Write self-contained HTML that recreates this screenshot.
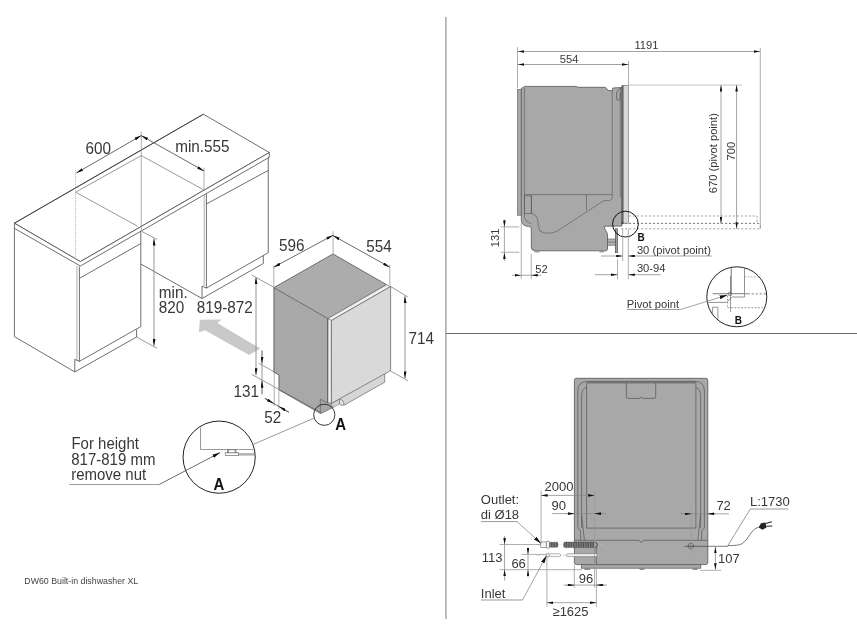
<!DOCTYPE html>
<html><head><meta charset="utf-8">
<style>
html,body{margin:0;padding:0;background:#fff;}
body{width:857px;height:640px;overflow:hidden;}
svg{display:block;will-change:transform;}
text{font-family:"Liberation Sans",sans-serif;fill:#383838;}
.l{stroke:#4a4a4a;stroke-width:0.8;}
.t{stroke:#555;stroke-width:0.6;}
.g{stroke:#9a9a9a;stroke-width:0.8;}
.d{stroke:#505050;stroke-width:0.85;}
.dv{stroke:#8a8a8a;stroke-width:0.9;}
.dr{stroke:#858585;stroke-width:0.75;}
polyline,line{fill:none;}
</style></head><body>
<svg width="857" height="640" viewBox="0 0 857 640">
<defs>
<marker id="ar" markerUnits="userSpaceOnUse" markerWidth="6.5" markerHeight="2.6" refX="6.5" refY="1.3" orient="auto-start-reverse" viewBox="0 0 6.5 2.6">
<path d="M0,0 L6.5,1.3 L0,2.6 z" fill="#111"/>
</marker>
<marker id="arl" markerUnits="userSpaceOnUse" markerWidth="7" markerHeight="3" refX="7" refY="1.5" orient="auto-start-reverse" viewBox="0 0 7 3">
<path d="M0,0 L7,1.5 L0,3 z" fill="#111"/>
</marker>
<marker id="ar2" markerUnits="userSpaceOnUse" markerWidth="8" markerHeight="3.8" refX="8" refY="1.9" orient="auto" viewBox="0 0 8 3.8">
<path d="M0,0 L8,1.9 L0,3.8 z" fill="#111"/>
</marker>
</defs>

<!-- dividers -->
<line x1="445.9" y1="17" x2="445.9" y2="619" stroke="#9a9a9a" stroke-width="1.3"/>
<line x1="446" y1="333.5" x2="857" y2="333.5" stroke="#6e6a6a" stroke-width="1.1"/>

<!-- ============ LEFT ISOMETRIC ============ -->
<g id="left">
<!-- countertop -->
<polygon points="14.4,223.2 203.4,114.2 269.3,152.5 80.4,261.6" fill="#fff" class="l"/>
<polygon points="14.4,223.2 80.4,261.6 269.3,152.5 269.3,157.3 80.4,266 14.4,228.4" fill="#fff" class="l"/>
<line x1="14.4" y1="223.2" x2="203.4" y2="114.2" stroke="#333" stroke-width="0.8"/>
<!-- niche outline on top -->
<polyline points="137.7,226.3 75.6,192.2 141.25,155.6 203.4,189.7" class="t"/>
<!-- left cabinet -->
<polyline points="14.4,228.4 14.4,336.6 74.8,371.9 136.6,337 136.6,329.5" class="l"/>
<line x1="74.8" y1="359.4" x2="74.8" y2="371.9" class="l"/>
<line x1="76.9" y1="266" x2="76.9" y2="360.2" stroke="#9a9a9a" stroke-width="0.8"/>
<line x1="79.4" y1="266.5" x2="79.4" y2="361.4" class="l"/>
<line x1="74.8" y1="359.4" x2="79.4" y2="361.4" class="l"/>
<line x1="79.4" y1="278.4" x2="140.8" y2="243.5" class="l"/>
<line x1="79.4" y1="361.4" x2="140.8" y2="326.6" class="l"/>
<line x1="140.8" y1="231.3" x2="140.8" y2="326.6" class="l"/>
<!-- niche: right cabinet side bottom edge -->
<line x1="140.8" y1="264" x2="202" y2="298.5" class="l"/>
<!-- right cabinet -->
<line x1="204.2" y1="195" x2="204.2" y2="286" stroke="#9a9a9a" stroke-width="0.8"/>
<line x1="206.4" y1="193.6" x2="206.4" y2="288.1" class="l"/>
<line x1="206.4" y1="204" x2="268.25" y2="170.4" class="l"/>
<line x1="206.4" y1="288.1" x2="268.25" y2="252.7" class="l"/>
<line x1="268.25" y1="157.2" x2="268.25" y2="252.7" class="l"/>
<polyline points="206.4,288.1 202,286.2 202,298.5 263.3,263.5 263.3,255.8" class="l"/>

<!-- extension lines / dims 600, min.555 -->
<line x1="75.6" y1="170" x2="75.6" y2="260" stroke="#aaa" stroke-width="0.8" stroke-dasharray="1.2,0.8"/>
<line x1="141.25" y1="131.7" x2="141.25" y2="231" stroke="#888" stroke-width="0.7"/>
<line x1="204" y1="167.8" x2="204" y2="190" class="g"/>
<line x1="76.4" y1="173" x2="141.25" y2="135.6" class="d" marker-start="url(#arl)" marker-end="url(#arl)"/>
<line x1="141.25" y1="135.6" x2="204" y2="171" class="d" marker-start="url(#arl)" marker-end="url(#arl)"/>
<text transform="translate(85.5,153.9) scale(1,1.12)" font-size="15.3">600</text>
<text transform="translate(175.2,151.9) scale(1,1.12)" font-size="15.3">min.555</text>

<!-- min 820 -->
<line x1="142" y1="231.5" x2="157" y2="239.4" class="t"/>
<line x1="136.6" y1="337" x2="157" y2="348.4" class="t"/>
<line x1="154" y1="238.6" x2="154" y2="346" class="dv" marker-start="url(#arl)" marker-end="url(#arl)"/>
<text transform="translate(158.8,298.2) scale(1,1.12)" font-size="15.3">min.</text>
<text transform="translate(158.8,312.7) scale(1,1.12)" font-size="15.3">820</text>
<text transform="translate(196.7,312.7) scale(1,1.12)" font-size="15.3">819-872</text>

<!-- gray arrow -->
<polygon points="199.8,319.8 221.9,319.4 217.2,323.1 260.4,348.5 249.1,355 205,330.2 198.9,332.5" fill="#c9c9c9"/>

<!-- dishwasher iso -->
<polygon points="273.9,287.6 328,318.6 331.4,320.5 331.4,403.4 333,407.5 320.6,413.6 279.1,390 279.1,375 273.9,372.2" fill="#a8a8a8"/>
<polyline points="273.9,287.6 273.9,372.2 279.1,375 279.1,390" class="l"/>
<line x1="279.1" y1="390" x2="320.6" y2="413.6" stroke="#555" stroke-width="0.7"/>
<line x1="320.6" y1="413.6" x2="333" y2="407.5" stroke="#555" stroke-width="0.7"/>
<polyline points="320.3,413.4 320.3,399.1 327.6,403" stroke="#555" stroke-width="0.6"/>
<polygon points="333,253.9 386.6,284.7 328,318.6 273.9,287.6" fill="#acacac" stroke="#555" stroke-width="0.8"/>
<polygon points="328,318.6 386.6,284.7 390.6,286.5 331.4,320.5" fill="#f0f0f0" stroke="#666" stroke-width="0.6"/>
<polygon points="328,318.6 331.4,320.5 331.4,403.4 327.8,402.5" fill="#eeeeee" stroke="#666" stroke-width="0.6"/>
<polygon points="341.7,397.7 384.7,373.9 384.7,382.2 343.8,405.4" fill="#d6d6d6"/>
<polygon points="331.4,403.4 340.2,398.6 341.6,403 333,407.5" fill="#d2d2d2" stroke="#666" stroke-width="0.5"/>
<polyline points="384.7,373.9 384.7,382.2 343.8,405.4" fill="none" stroke="#555" stroke-width="0.6"/>

<polygon points="331.4,320.5 390.6,286.5 390.6,370.6 331.4,403.4" fill="#d9d9d9" stroke="#5a5a5a" stroke-width="0.7"/>

<ellipse cx="341.6" cy="402.5" rx="2" ry="3.1" transform="rotate(-28 341.6 402.5)" fill="#e6e6e6" stroke="#555" stroke-width="0.6"/>
<line x1="327.6" y1="318.8" x2="327.6" y2="403" stroke="#555" stroke-width="0.8"/>

<!-- dims 596 / 554 / 714 -->
<line x1="273.8" y1="265.3" x2="273.8" y2="287.5" class="g"/>
<line x1="333.1" y1="231.25" x2="333.1" y2="253.9" class="g"/>
<line x1="389.8" y1="264.8" x2="389.8" y2="285" class="g"/>
<line x1="273.75" y1="267.2" x2="333.1" y2="235.2" class="d" marker-start="url(#arl)" marker-end="url(#arl)"/>
<line x1="333.1" y1="235.6" x2="389.8" y2="267.2" class="d" marker-start="url(#arl)" marker-end="url(#arl)"/>
<text transform="translate(279.0,251.1) scale(1,1.12)" font-size="15.3">596</text>
<text transform="translate(366.2,251.9) scale(1,1.12)" font-size="15.3">554</text>
<line x1="389.8" y1="286" x2="407.8" y2="296.9" class="t"/>
<line x1="390.6" y1="371" x2="408.1" y2="380.8" class="t"/>
<line x1="405" y1="296" x2="405" y2="378.4" class="dv" marker-start="url(#arl)" marker-end="url(#arl)"/>
<text transform="translate(408.6,343.6) scale(1,1.12)" font-size="15.3">714</text>

<!-- 819-872 dim + 131 + 52 -->
<line x1="251.6" y1="275" x2="273.6" y2="287.2" class="t"/>
<line x1="256" y1="277.3" x2="256" y2="375.15" class="dv" marker-start="url(#arl)" marker-end="url(#arl)"/>
<line x1="258.7" y1="363.2" x2="274.9" y2="372.3" class="t"/>
<line x1="251.7" y1="374.4" x2="320.3" y2="412.2" class="t"/>
<line x1="262" y1="350.5" x2="262" y2="394.1" class="dv"/>
<line x1="262" y1="350.5" x2="262" y2="363.6" class="dv" marker-end="url(#arl)"/>
<line x1="262" y1="394.1" x2="262" y2="380.8" class="dv" marker-end="url(#arl)"/>
<text transform="translate(233.4,397.3) scale(1,1.12)" font-size="15.3">131</text>
<line x1="274.2" y1="372.3" x2="274.2" y2="406" class="g"/>
<line x1="278.85" y1="375" x2="278.85" y2="408.9" class="g"/>
<line x1="264.9" y1="398.4" x2="288.8" y2="412.2" class="d"/>
<line x1="264.9" y1="398.4" x2="273.6" y2="403.4" class="d" marker-end="url(#arl)"/>
<line x1="288.8" y1="412.2" x2="279.1" y2="406.6" class="d" marker-end="url(#arl)"/>
<text transform="translate(264.2,423.3) scale(1,1.12)" font-size="15.3">52</text>

<!-- detail A -->
<circle cx="324.3" cy="414.75" r="10.6" fill="none" stroke="#222" stroke-width="0.9"/>
<text transform="translate(335.3,429.7) scale(1,1.07)" font-size="15" font-weight="bold" style="fill:#111">A</text>
<line x1="314.25" y1="418" x2="253.7" y2="444.25" class="t"/>
<circle cx="219.15" cy="457.15" r="36.1" fill="none" stroke="#222" stroke-width="1"/>
<polyline points="200.5,427.6 200.5,449.5 253.3,449.5" class="t"/>
<rect x="225.2" y="452.8" width="13.5" height="2.7" class="t" fill="#fff"/>
<rect x="227.4" y="449.8" width="8.6" height="3" class="t" fill="#fff"/>
<line x1="228.4" y1="449.8" x2="228.4" y2="452.8" class="t"/><line x1="235.1" y1="449.8" x2="235.1" y2="452.8" class="t"/>
<line x1="238.7" y1="453.8" x2="254.5" y2="453.8" class="t"/>
<line x1="238.7" y1="455" x2="254.5" y2="455" class="t"/>
<text transform="translate(213.5,489.7) scale(1,1.07)" font-size="15" font-weight="bold" style="fill:#111">A</text>
<line x1="69.25" y1="484.5" x2="159.2" y2="484.5" class="t"/>
<line x1="159.2" y1="484.5" x2="220.1" y2="452.6" class="d" marker-end="url(#ar2)"/>
<text transform="translate(71.4,449.2) scale(1,1.04)" font-size="15">For height</text>
<text transform="translate(71.2,464.8) scale(1,1.04)" font-size="15">817-819 mm</text>
<text transform="translate(71.2,479.9) scale(1,1.04)" font-size="15">remove nut</text>

<text x="24.3" y="584.2" font-size="8.8" style="fill:#444">DW60 Built-in dishwasher XL</text>
</g>

<!-- ============ TOP RIGHT: SIDE VIEW ============ -->
<g id="side">
<!-- dims top -->
<line x1="517.5" y1="47.2" x2="517.5" y2="88" class="g"/>
<line x1="760.3" y1="47.9" x2="760.3" y2="228.8" class="g"/>
<line x1="628.5" y1="61" x2="628.5" y2="85" class="g"/>
<line x1="517.5" y1="51.5" x2="760.3" y2="51.5" class="dr" marker-start="url(#ar)" marker-end="url(#ar)"/>
<line x1="517.5" y1="64.5" x2="628.5" y2="64.5" class="dr" marker-start="url(#ar)" marker-end="url(#ar)"/>
<text transform="translate(634.4,48.9) scale(1,1.05)" font-size="11.2">1191</text>
<text transform="translate(559.8,62.7) scale(1,1.05)" font-size="11.2">554</text>
<line x1="628.5" y1="85" x2="741.8" y2="85" stroke="#c4c4c4" stroke-width="1.2"/>
<line x1="721" y1="85" x2="721" y2="223.6" class="dr" marker-start="url(#ar)" marker-end="url(#ar)"/>
<line x1="736.6" y1="85" x2="736.6" y2="228.8" class="dr" marker-start="url(#ar)" marker-end="url(#ar)"/>
<text transform="translate(716.9,153.2) rotate(-90) scale(1,1.05)" text-anchor="middle" font-size="11.2">670 (pivot point)</text>
<text transform="translate(735.2,151.2) rotate(-90) scale(1,1.05)" text-anchor="middle" font-size="11.2">700</text>
<!-- dotted open-door outline -->
<g stroke="#888" stroke-width="0.8" stroke-dasharray="2,2" fill="none">
<polyline points="628.75,216 757,216 757,223.4"/>
<line x1="617" y1="223.4" x2="760.3" y2="223.4" stroke="#555"/>
<polyline points="621.25,228.8 760.3,228.8 760.3,223.4"/>
</g>
<!-- body -->
<rect x="517.5" y="89.6" width="3.8" height="125.6" fill="#a8a8a8" class="t"/>
<path d="M521.3,88.5 L524.5,86.4 L576,86.4 L578,87.3 L605.4,87.3 L608.6,90.6 L612.5,90.6 L612.7,88 L621.9,87.5 L621.9,226 L604.4,226.25 Q604.4,229 606,231 Q607.5,233 607.5,235 L607.5,249 Q607.5,250.8 605.5,250.8 L535,250.8 Q531.3,250.8 531.3,247 L531.3,229 Q531.3,226.3 528.5,226.3 L526.4,226.2 Q521.3,224.5 521.3,220 Z" fill="#a8a8a8" stroke="#555" stroke-width="0.8"/>
<rect x="623.2" y="85.6" width="5.1" height="137.6" fill="#d8d8d8" stroke="#666" stroke-width="0.6"/>
<path d="M621.4,85.3 L623.2,85.3 L623.2,223.5 L621.4,223.5 Z" fill="#666"/>
<g stroke="#555" stroke-width="0.6" fill="none">
<path d="M524.4,88 L524.4,217.8 Q526,222 531.3,224"/>
<line x1="612.2" y1="91" x2="612.2" y2="196"/>
<line x1="620.3" y1="88" x2="620.3" y2="197"/>
<line x1="524.4" y1="194.6" x2="612.5" y2="194.6"/>
<rect x="524.4" y="195.9" width="6.9" height="17.5"/>
<path d="M531.3,195 L531.3,213.4 Q535.5,214 537.5,219 Q538,227 540,231 Q543,233.5 550,233.2 Q556,232.5 561,228.7 L603.75,200.6 L609.5,200.6 Q612.5,200 612.5,196"/>
<line x1="586.5" y1="194.6" x2="586.5" y2="210.6"/>
<path d="M621,87.9 L616.6,91.8 L616.6,99 Q616.6,100.3 618.3,100.3 Q620.1,100.3 620.1,99 L620.1,92.7" stroke-width="0.7"/>
</g>
<!-- connector -->
<rect x="607.6" y="239" width="7.8" height="6.2" fill="#b4b4b4" stroke="#555" stroke-width="0.6"/>
<line x1="607.6" y1="242.1" x2="615.4" y2="242.1" stroke="#555" stroke-width="0.6"/>
<rect x="615.3" y="228.8" width="2.2" height="23.9" fill="#9c9c9c" stroke="#444" stroke-width="0.6"/>
<rect x="534.5" y="250.8" width="5" height="1.6" fill="#999"/>
<rect x="599.5" y="250.8" width="4.5" height="1.6" fill="#999"/>
<!-- circle B -->
<circle cx="625.45" cy="224.1" r="12.9" fill="none" stroke="#111" stroke-width="1"/>
<circle cx="622.5" cy="223.2" r="1" fill="#333"/>
<text x="637.5" y="240.5" font-size="10" font-weight="bold" style="fill:#111">B</text>
<!-- bottom dims -->
<line x1="500.6" y1="226.9" x2="519.4" y2="226.9" class="g"/>
<line x1="500.6" y1="252.25" x2="519.4" y2="252.25" class="g"/>
<line x1="504.4" y1="219.4" x2="504.4" y2="226.9" class="dr" marker-end="url(#ar)"/>
<line x1="504.4" y1="261.25" x2="504.4" y2="252.5" class="dr" marker-end="url(#ar)"/>
<line x1="504.4" y1="226.9" x2="504.4" y2="252.5" class="dr"/>
<text transform="translate(499.4,237.8) rotate(-90) scale(1,1.05)" text-anchor="middle" font-size="11.2">131</text>
<line x1="521.25" y1="222.5" x2="521.25" y2="278.75" class="g"/>
<line x1="531.25" y1="253.75" x2="531.25" y2="278.75" class="g"/>
<line x1="511.9" y1="275.25" x2="521.25" y2="275.25" class="dr" marker-end="url(#ar)"/>
<line x1="541.25" y1="275.25" x2="531.25" y2="275.25" class="dr" marker-end="url(#ar)"/>
<line x1="521.25" y1="275.25" x2="531.25" y2="275.25" class="dr"/>
<text transform="translate(535.3,272.5) scale(1,1.05)" font-size="11.2">52</text>
<line x1="622.7" y1="228.75" x2="622.7" y2="261.1" class="g"/>
<line x1="628.3" y1="228.8" x2="628.3" y2="279" class="g"/>
<line x1="617.5" y1="259.2" x2="617.5" y2="279" class="g"/>
<line x1="601.1" y1="256" x2="622.7" y2="256" class="dr" marker-end="url(#ar)"/>
<line x1="711.8" y1="256" x2="628.3" y2="256" class="dr" marker-end="url(#ar)"/>
<line x1="595" y1="274.7" x2="617.5" y2="274.7" class="dr" marker-end="url(#ar)"/>
<line x1="660.7" y1="274.7" x2="628.3" y2="274.7" class="dr" marker-end="url(#ar)"/>
<text transform="translate(636.9,253.6) scale(1,1.05)" font-size="11.2">30 (pivot point)</text>
<text transform="translate(636.9,272.4) scale(1,1.05)" font-size="11.2">30-94</text>
<!-- pivot detail -->
<defs><clipPath id="cpB"><circle cx="736.8" cy="296.8" r="29.6"/></clipPath></defs>
<g clip-path="url(#cpB)" fill="none">
<line x1="731.2" y1="266" x2="731.2" y2="293.9" stroke="#666" stroke-width="0.9"/>
<polyline points="744.5,266 744.5,297 732.3,297 727.5,301.5 726.4,302.4 706,302.4" stroke="#777" stroke-width="0.8"/>
<line x1="712.6" y1="293.7" x2="747.7" y2="293.7" stroke="#999" stroke-width="1.2"/>
<line x1="747.7" y1="293.9" x2="768" y2="293.9" stroke="#666" stroke-width="0.8" stroke-dasharray="2.2,1.8"/>
<line x1="744.5" y1="276.9" x2="768" y2="276.9" stroke="#999" stroke-width="0.9" stroke-dasharray="1.6,1.6"/>
<line x1="727.5" y1="307.7" x2="768" y2="307.7" stroke="#888" stroke-width="0.9" stroke-dasharray="1.8,1.6"/>
<line x1="727.5" y1="296" x2="727.5" y2="307.7" stroke="#888" stroke-width="0.8" stroke-dasharray="1.5,1.5"/>
<line x1="730.5" y1="275.8" x2="730.5" y2="312" stroke="#555" stroke-width="0.6"/>
<circle cx="729.9" cy="293.9" r="1.8" stroke="#555" stroke-width="0.6"/>
<polyline points="712.6,326 712.6,307.2 717.9,307.2 717.9,326" stroke="#666" stroke-width="0.7"/>
</g>
<circle cx="736.8" cy="296.8" r="30" fill="none" stroke="#222" stroke-width="1"/>
<text transform="translate(626.8,307.7) scale(1,1.05)" font-size="11.2">Pivot point</text>
<line x1="626.8" y1="309.5" x2="680.5" y2="309.5" class="t"/>
<line x1="680.5" y1="309.5" x2="727.5" y2="295" class="dr" marker-end="url(#ar2)"/>
<text x="734.8" y="324.2" font-size="10" font-weight="bold" style="fill:#111">B</text>
</g>

<!-- ============ BOTTOM RIGHT: FRONT VIEW ============ -->
<g id="front">
<rect x="581.3" y="563" width="119.5" height="5.2" fill="#a8a8a8" stroke="#555" stroke-width="0.7"/>
<rect x="584.4" y="568" width="5.6" height="2" fill="#8a8a8a"/>
<rect x="639.5" y="568" width="5" height="2" fill="#8a8a8a"/>
<rect x="692.5" y="568" width="5" height="2" fill="#8a8a8a"/>
<rect x="574.4" y="378.3" width="133.4" height="186.3" rx="2" fill="#a8a8a8" stroke="#555" stroke-width="0.8"/>
<!-- top dark band -->
<path d="M586.9,381.4 L695.9,381.4 L695.9,383.6 L586.9,383.6 Z" fill="#777"/>
<g stroke="#555" stroke-width="0.7" fill="none">
<path d="M577.8,528 L577.8,391 Q577.8,381.5 587.5,381.4 L695,381.4 Q704.4,381.5 704.4,391 L704.4,528"/>
<path d="M581.6,528 L581.6,396 Q581.6,388.5 586.6,387.6"/>
<path d="M700.6,528 L700.6,396 Q700.6,388.5 695.9,387.6"/>
<path d="M586.6,383 L586.6,528.1 L695.9,528.1 L695.9,383"/>
<path d="M577.8,528 L580.6,531 L580.6,540.2"/>
<path d="M581.6,515 L584.4,540.2"/>
<path d="M704.4,528 L701.6,531 L701.6,540.2"/>
<path d="M700.6,515 L697.8,540.2"/>
<path d="M574.4,540.3 L638.9,540.3 L640.5,542.2 L642.1,542.2 L643.7,540.3 L707.8,540.3"/>
<path d="M626.4,383 L626.4,397 Q626.4,398.4 628,398.4 L639.8,398.4 L641.3,396.8 L642.8,398.4 L654.3,398.4 Q655.7,398.4 655.7,397 L655.7,383"/>
</g>
<!-- hoses -->
<defs><pattern id="corr" patternUnits="userSpaceOnUse" width="1.7" height="10" x="0" y="0"><rect width="1.7" height="10" fill="#4d4d4d"/><rect x="1.05" width="0.6" height="10" fill="#9a9a9a"/></pattern></defs>
<rect x="594.2" y="547.6" width="2.6" height="17.2" fill="#9a9a9a" stroke="#555" stroke-width="0.5"/>
<line x1="536" y1="544.7" x2="603" y2="544.7" stroke="#bbb" stroke-width="0.6" stroke-dasharray="5,1.5,1,1.5"/>
<line x1="536" y1="555.2" x2="603" y2="555.2" stroke="#bbb" stroke-width="0.6" stroke-dasharray="5,1.5,1,1.5"/>
<rect x="540.8" y="541.9" width="5.6" height="5.6" fill="#f4f4f4" stroke="#666" stroke-width="0.6"/>
<rect x="546.4" y="541.3" width="3.3" height="6.8" rx="0.6" fill="#f4f4f4" stroke="#666" stroke-width="0.6"/>
<rect x="549.7" y="542.3" width="8.2" height="4.9" rx="0.8" fill="url(#corr)" stroke="#444" stroke-width="0.4"/>
<path d="M564.6,542.1 L594.8,542.1 Q597.6,542.2 597.6,544.85 Q597.6,547.5 594.8,547.6 L564.6,547.6 Q563.6,547.6 563.6,544.85 Q563.6,542.1 564.6,542.1 Z" fill="url(#corr)" stroke="#444" stroke-width="0.4"/>
<path d="M595,543 Q596.8,544.85 595,546.7" fill="none" stroke="#eee" stroke-width="0.7"/>
<rect x="546.4" y="553.3" width="2.9" height="3.7" rx="1.2" fill="#f4f4f4" stroke="#666" stroke-width="0.6"/>
<rect x="549.3" y="553.7" width="11.4" height="2.9" rx="1.4" fill="#f6f6f6" stroke="#777" stroke-width="0.5"/>
<rect x="566.5" y="553.7" width="31" height="2.9" rx="1.4" fill="#f0f0f0" stroke="#666" stroke-width="0.5"/>
<!-- right connector -->
<circle cx="690.9" cy="546" r="2.8" fill="#bbb" stroke="#444" stroke-width="0.6"/>
<line x1="688" y1="546" x2="693.8" y2="546" stroke="#444" stroke-width="0.5"/>
<line x1="690.9" y1="543.2" x2="690.9" y2="548.8" stroke="#444" stroke-width="0.5"/>
<!-- dims -->
<line x1="541.1" y1="490.5" x2="541.1" y2="543.4" class="g"/>
<line x1="594.6" y1="489.8" x2="594.6" y2="587.5" class="g"/>
<line x1="541.1" y1="495.4" x2="594.6" y2="495.4" class="dr" marker-start="url(#ar)" marker-end="url(#ar)"/>
<text x="544.6" y="490.8" font-size="13">2000</text>
<line x1="552.1" y1="513.6" x2="605.8" y2="513.6" class="dr"/>
<line x1="566" y1="513.6" x2="574.4" y2="513.6" class="dr" marker-end="url(#ar)"/>
<line x1="603" y1="513.6" x2="594.6" y2="513.6" class="dr" marker-end="url(#ar)"/>
<text x="551.5" y="509.8" font-size="13">90</text>
<line x1="691.4" y1="509.4" x2="691.4" y2="553.3" class="g"/>
<line x1="680.3" y1="513.8" x2="728.9" y2="513.8" class="dr"/>
<line x1="683" y1="513.8" x2="691.4" y2="513.8" class="dr" marker-end="url(#ar)"/>
<line x1="716" y1="513.8" x2="707.6" y2="513.8" class="dr" marker-end="url(#ar)"/>
<text x="716.4" y="510" font-size="13">72</text>
<line x1="574.3" y1="565" x2="574.3" y2="587.6" class="g"/>
<line x1="596.4" y1="569" x2="596.4" y2="606.8" class="g"/>
<line x1="563.7" y1="585.1" x2="607" y2="585.1" class="dr"/>
<line x1="566" y1="585.1" x2="574.3" y2="585.1" class="dr" marker-end="url(#ar)"/>
<line x1="604.5" y1="585.1" x2="596.4" y2="585.1" class="dr" marker-end="url(#ar)"/>
<text x="578.8" y="582.8" font-size="13">96</text>
<line x1="546.9" y1="556" x2="546.9" y2="606.8" class="g"/>
<line x1="546.9" y1="602.7" x2="596.4" y2="602.7" class="dr" marker-start="url(#ar)" marker-end="url(#ar)"/>
<text x="552.5" y="615.6" font-size="13">≥1625</text>
<!-- 113 / 66 -->
<line x1="499.5" y1="544.5" x2="540" y2="544.5" class="g"/>
<line x1="499.5" y1="569.7" x2="582" y2="569.7" class="g"/>
<line x1="521.4" y1="554.4" x2="546" y2="554.4" class="g"/>
<line x1="504.6" y1="535.8" x2="504.6" y2="544.5" class="dr" marker-end="url(#ar)"/>
<line x1="504.6" y1="580.6" x2="504.6" y2="569.7" class="dr" marker-end="url(#ar)"/>
<line x1="504.6" y1="544.5" x2="504.6" y2="569.7" class="dr"/>
<line x1="528" y1="547.8" x2="528" y2="554.4" class="dr" marker-end="url(#ar)"/>
<line x1="528" y1="577.4" x2="528" y2="569.7" class="dr" marker-end="url(#ar)"/>
<line x1="528" y1="554.4" x2="528" y2="569.7" class="dr"/>
<text x="481.8" y="562" font-size="13">113</text>
<text x="511.4" y="567.5" font-size="13">66</text>
<!-- labels -->
<text x="480.8" y="504" font-size="13">Outlet:</text>
<text x="480.8" y="519.4" font-size="13">di Ø18</text>
<line x1="481" y1="521.6" x2="517" y2="521.6" class="t"/>
<line x1="517" y1="521.6" x2="541.1" y2="543.4" class="dr" marker-end="url(#ar2)"/>
<text x="480.8" y="598" font-size="13">Inlet</text>
<line x1="481" y1="600" x2="522.5" y2="600" class="t"/>
<line x1="522.5" y1="600" x2="546.6" y2="555.5" class="dr" marker-end="url(#ar2)"/>
<!-- 107 / L:1730 -->
<line x1="700.2" y1="570.3" x2="721.3" y2="570.3" class="g"/>
<line x1="684.4" y1="546.3" x2="727.8" y2="546.3" stroke="#444" stroke-width="0.7"/>
<line x1="715.4" y1="546.9" x2="715.4" y2="569.7" class="dr" marker-start="url(#ar)" marker-end="url(#ar)"/>
<text x="718" y="562.5" font-size="13">107</text>
<text x="750" y="506.3" font-size="13">L:1730</text>
<line x1="750.3" y1="509" x2="788.4" y2="509" class="t"/>
<line x1="750.3" y1="509" x2="727.8" y2="545.6" class="t"/>
<path d="M727.8,545.6 Q738,545.8 742,543.8 Q747,540 751,533 Q754,528.5 758.5,527" fill="none" stroke="#444" stroke-width="0.7"/>
<path d="M758.5,527.5 L761,523.2 L765.5,522.5 L766.5,527.5 L762.5,529.8 Z" fill="#222"/>
<line x1="765.8" y1="523.5" x2="771.8" y2="521.8" stroke="#222" stroke-width="1.1"/>
<line x1="766.4" y1="526.2" x2="772.2" y2="526" stroke="#222" stroke-width="1.1"/>
</g>
</svg>
</body></html>
